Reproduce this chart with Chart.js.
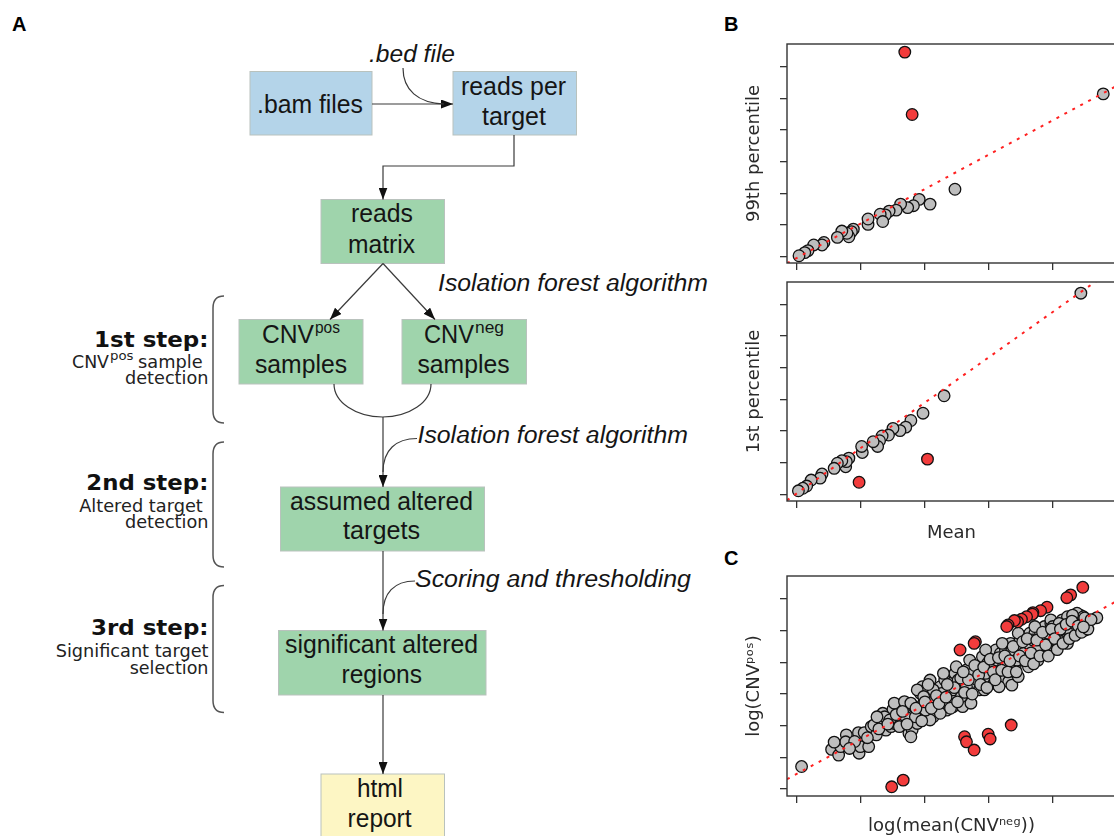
<!DOCTYPE html>
<html>
<head>
<meta charset="utf-8">
<script src="https://cdn.jsdelivr.net/npm/chart.js@4/dist/chart.umd.min.js"></script>
<style>
  html, body { margin: 0; padding: 0; background: #fff; }
  body { width: 1114px; height: 836px; overflow: hidden; position: relative; }
  svg#flow { position: absolute; left: 0; top: 0; }
  canvas { position: absolute; }
  .box { stroke: #b9c2bd; stroke-width: 1; }
  .lab { font-family: 'Liberation Sans Narrow', 'Liberation Sans', Arial, sans-serif; font-size: 25px; fill: #151515; }
  .ital { font-family: 'Liberation Sans Narrow', 'Liberation Sans', Arial, sans-serif; font-size: 23px; font-style: italic; fill: #151515; }
  .step { font-family: 'DejaVu Sans', sans-serif; font-size: 22px; font-weight: bold; fill: #111; }
  .sub { font-family: 'DejaVu Sans', sans-serif; font-size: 17px; fill: #222; }
  .panel { font-family: 'Liberation Sans', Arial, sans-serif; font-size: 20px; font-weight: bold; fill: #000; }
  .ln { stroke: #3a3a3a; stroke-width: 1.2; fill: none; }
  .br { stroke: #555; stroke-width: 1.5; fill: none; }
</style>
</head>
<body>
<svg id="flow" width="1114" height="836" xmlns="http://www.w3.org/2000/svg">
  <defs>
    <marker id="ah" viewBox="0 0 12 9" refX="12" refY="4.5" markerWidth="12" markerHeight="9" markerUnits="userSpaceOnUse" orient="auto">
      <path d="M0,0 L12,4.5 L0,9 z" fill="#111"/>
    </marker>
  </defs>
  <text class="panel" x="12" y="31">A</text>
  <text class="panel" x="724" y="31">B</text>
  <text class="panel" x="724" y="565">C</text>

  <!-- boxes -->
  <rect class="box" x="250" y="71.5" width="122" height="63.5" fill="#b4d4e9"/>
  <rect class="box" x="453" y="71.5" width="123.5" height="63.5" fill="#b4d4e9"/>
  <rect class="box" x="321" y="199.5" width="123.5" height="64" fill="#9fd4ac"/>
  <rect class="box" x="239" y="319.5" width="124" height="64.5" fill="#9fd4ac"/>
  <rect class="box" x="402" y="319.5" width="124.5" height="64.5" fill="#9fd4ac"/>
  <rect class="box" x="280.5" y="487" width="204" height="64" fill="#9fd4ac"/>
  <rect class="box" x="278.5" y="630.5" width="207.5" height="64.5" fill="#9fd4ac"/>
  <rect class="box" x="321" y="774" width="123.5" height="70" fill="#fdf6c4"/>

  <!-- connectors -->
  <path class="ln" d="M372,104 L453,104" marker-end="url(#ah)"/>
  <path class="ln" d="M403,68 C403,90 418,103 444,104"/>
  <path class="ln" d="M514,135 L514,166 L383,166 L383,199.5" marker-end="url(#ah)"/>
  <path class="ln" d="M383,263.5 L330,319.5" marker-end="url(#ah)"/>
  <path class="ln" d="M383,263.5 L435,319.5" marker-end="url(#ah)"/>
  <path class="ln" d="M334,384 A48.5,33 0 0 0 431,384"/>
  <path class="ln" d="M383,417 L383,487" marker-end="url(#ah)"/>
  <path class="ln" d="M417,438.5 C396,438.5 383,450 383,472"/>
  <path class="ln" d="M383,551 L383,630.5" marker-end="url(#ah)"/>
  <path class="ln" d="M415,581 C394,581 383,593 383,614"/>
  <path class="ln" d="M383,695 L383,774" marker-end="url(#ah)"/>

  <!-- box texts -->
  <text class="ital" x="369" y="61.5" textLength="86" lengthAdjust="spacingAndGlyphs">.bed file</text>
  <text class="lab" x="257" y="112.5" textLength="106" lengthAdjust="spacingAndGlyphs">.bam files</text>
  <text class="lab" x="461" y="94.5" textLength="105" lengthAdjust="spacingAndGlyphs">reads per</text>
  <text class="lab" x="482" y="124.5" textLength="64" lengthAdjust="spacingAndGlyphs">target</text>
  <text class="lab" x="351" y="221.5" textLength="62" lengthAdjust="spacingAndGlyphs">reads</text>
  <text class="lab" x="348" y="253" textLength="67" lengthAdjust="spacingAndGlyphs">matrix</text>
  <text class="ital" x="438" y="291" textLength="270" lengthAdjust="spacingAndGlyphs">Isolation forest algorithm</text>
  <text class="lab" x="262" y="342.7" textLength="52" lengthAdjust="spacingAndGlyphs">CNV</text>
  <text class="lab" x="315" y="333" style="font-size:16px" textLength="25" lengthAdjust="spacingAndGlyphs">pos</text>
  <text class="lab" x="255" y="372.7" textLength="92" lengthAdjust="spacingAndGlyphs">samples</text>
  <text class="lab" x="424" y="342.7" textLength="50" lengthAdjust="spacingAndGlyphs">CNV</text>
  <text class="lab" x="475" y="333" style="font-size:16px" textLength="29" lengthAdjust="spacingAndGlyphs">neg</text>
  <text class="lab" x="417.5" y="372.7" textLength="92" lengthAdjust="spacingAndGlyphs">samples</text>
  <text class="ital" x="417.5" y="443.3" textLength="270.5" lengthAdjust="spacingAndGlyphs">Isolation forest algorithm</text>
  <text class="lab" x="290" y="510" textLength="183" lengthAdjust="spacingAndGlyphs">assumed altered</text>
  <text class="lab" x="343" y="539.3" textLength="77" lengthAdjust="spacingAndGlyphs">targets</text>
  <text class="ital" x="415" y="586.7" textLength="276" lengthAdjust="spacingAndGlyphs">Scoring and thresholding</text>
  <text class="lab" x="285" y="652.7" textLength="193" lengthAdjust="spacingAndGlyphs">significant altered</text>
  <text class="lab" x="341.5" y="683.3" textLength="80.5" lengthAdjust="spacingAndGlyphs">regions</text>
  <text class="lab" x="357" y="796.7" textLength="46" lengthAdjust="spacingAndGlyphs">html</text>
  <text class="lab" x="347.6" y="826.7" textLength="64" lengthAdjust="spacingAndGlyphs">report</text>

  <!-- step labels -->
  <text class="step" x="94" y="346.7" textLength="114.5" lengthAdjust="spacingAndGlyphs">1st step:</text>
  <text class="sub" x="72" y="368.3" textLength="37" lengthAdjust="spacingAndGlyphs">CNV</text>
  <text class="sub" x="110" y="360" style="font-size:12px" textLength="23.5" lengthAdjust="spacingAndGlyphs">pos</text>
  <text class="sub" x="138" y="368.3" textLength="64.6" lengthAdjust="spacingAndGlyphs">sample</text>
  <text class="sub" x="125" y="384.3" textLength="83.5" lengthAdjust="spacingAndGlyphs">detection</text>
  <text class="step" x="86.3" y="490" textLength="122" lengthAdjust="spacingAndGlyphs">2nd step:</text>
  <text class="sub" x="79.2" y="512.3" textLength="123.6" lengthAdjust="spacingAndGlyphs">Altered target</text>
  <text class="sub" x="125" y="528.3" textLength="83.5" lengthAdjust="spacingAndGlyphs">detection</text>
  <text class="step" x="91" y="635" textLength="117.5" lengthAdjust="spacingAndGlyphs">3rd step:</text>
  <text class="sub" x="55.7" y="657.3" textLength="152.8" lengthAdjust="spacingAndGlyphs">Significant target</text>
  <text class="sub" x="129.7" y="674" textLength="78.8" lengthAdjust="spacingAndGlyphs">selection</text>

  <!-- braces -->
  <path class="br" d="M224,296 Q213,296 213,308 L213,411 Q213,423 224,423"/>
  <path class="br" d="M224,442 Q213,442 213,454 L213,555 Q213,567 224,567"/>
  <path class="br" d="M224,585.5 Q213,585.5 213,597.5 L213,700.5 Q213,712.5 224,712.5"/>
</svg>

<canvas id="bTop" width="383" height="239" style="left:740px;top:34px"></canvas>
<canvas id="bBot" width="383" height="276" style="left:740px;top:272px"></canvas>
<canvas id="cPlot" width="383" height="275" style="left:740px;top:566px"></canvas>

<script>
// ---------- tick values ----------
const xTickValues = [0, 1, 2, 3, 4];
const yTickValues = [0, 1, 2, 3, 4, 5, 6];

// ---------- Panel B (top): 99th percentile vs Mean ----------
const bTopGray = [[4.79,5.14],[2.47,2.13],[2.08,1.66],[1.91,1.81],[1.82,1.61],[1.73,1.55],[1.62,1.66],[1.55,1.47],[1.44,1.44],[1.38,1.32],[1.30,1.34],[1.34,1.11],[1.11,1.02],[1.11,1.19],[0.88,0.87],[0.85,0.79],[0.81,0.63],[0.78,0.74],[0.70,0.81],[0.63,0.61],[0.42,0.45],[0.39,0.37],[0.26,0.37],[0.17,0.19],[0.12,0.13],[0.03,0.03]];
const bTopRed = [[1.685,6.46],[1.80,4.49]];
const bTopLine = [[-0.158,-0.205],[4.988,5.38]];

// ---------- Panel B (bottom): 1st percentile vs Mean ----------
const bBotGray = [[4.44,6.35],[2.30,3.11],[1.97,2.56],[1.78,2.33],[1.70,2.12],[1.61,2.01],[1.50,2.08],[1.43,1.87],[1.33,1.84],[1.29,1.69],[1.26,1.51],[1.19,1.66],[1.02,1.32],[1.01,1.51],[0.81,1.14],[0.76,0.87],[0.77,1.03],[0.70,1.06],[0.63,0.98],[0.58,0.82],[0.39,0.64],[0.36,0.51],[0.22,0.45],[0.15,0.26],[0.09,0.19],[0.02,0.11]];
const bBotRed = [[0.97,0.38],[2.04,1.11]];
const bBotLine = [[-0.158,-0.19],[4.988,7.17]];

// ---------- Panel C: log(CNVpos) vs log(mean(CNVneg)) ----------
const cGray = [[0.07,0.71],[0.54,1.25],[0.65,1.07],[0.68,1.34],[0.77,1.71],[0.76,1.49],[0.96,1.78],[0.97,1.13],[0.99,1.34],[1.05,1.78],[1.12,1.34],[1.16,1.97],[1.24,1.71],[1.32,2.07],[1.34,2.39],[1.39,1.86],[1.47,1.97],[1.50,2.52],[1.57,2.28],[1.62,2.60],[1.68,2.07],[1.73,2.49],[1.75,1.76],[1.80,1.86],[1.83,2.60],[1.88,2.07],[1.90,2.39],[1.93,3.02],[1.96,3.23],[1.98,2.71],[2.03,3.13],[2.06,2.39],[2.11,2.92],[2.13,2.28],[2.19,2.60],[2.24,3.23],[2.29,2.81],[2.31,3.44],[2.34,2.49],[2.39,3.02],[2.42,3.34],[2.47,3.65],[2.49,2.92],[2.54,3.23],[2.59,3.39],[2.65,3.76],[2.67,2.81],[2.70,3.13],[2.72,3.55],[2.77,3.34],[2.80,3.86],[2.85,3.13],[2.88,3.76],[2.90,4.18],[2.93,3.44],[2.98,3.97],[3.00,3.55],[3.05,4.07],[3.08,3.34],[3.11,4.39],[3.16,3.86],[3.18,4.28],[3.21,3.55],[3.26,4.39],[3.28,3.97],[3.31,3.39],[3.34,4.60],[3.39,4.18],[3.41,3.86],[3.46,4.39],[3.49,4.71],[3.51,4.07],[3.56,4.81],[3.59,4.39],[3.62,3.97],[3.64,4.92],[3.67,4.49],[3.69,4.18],[3.72,4.92],[3.74,4.39],[3.79,5.02],[3.82,4.60],[3.85,4.28],[3.87,5.13],[3.90,4.76],[3.95,4.49],[3.97,5.23],[4.00,4.92],[4.02,4.60],[4.08,5.13],[4.10,4.81],[4.15,5.34],[4.18,4.92],[4.20,4.71],[4.25,5.28],[4.31,5.13],[4.36,5.39],[4.38,5.02],[4.43,5.49],[4.51,5.02],[4.69,5.41],[4.46,5.23],[4.23,5.02],[4.13,4.65],[4.05,5.02],
  [1.37,2.28],[1.52,2.07],[1.78,1.65],[1.98,2.28],[2.08,2.18],[2.24,2.39],[2.44,2.60],[2.59,2.60],[2.72,2.71],[2.93,3.13],[3.16,3.23],[3.36,3.28],[3.46,3.55],[3.62,3.86],[3.77,4.07],[3.92,4.39],[4.08,4.49],[4.23,4.60],
  [1.52,2.71],[1.68,2.76],[1.88,3.13],[2.08,3.44],[2.29,3.65],[2.49,3.86],[2.70,4.07],[2.95,4.39],[3.21,4.60],[3.46,4.92],[3.72,5.13],[3.97,5.34],[4.23,5.44],[4.38,5.55],
  [1.45,2.18],[1.60,1.97],[1.70,2.28],[1.78,2.71],[1.85,2.28],[2.01,2.49],[2.16,2.81],[2.26,3.02],[2.37,2.71],[2.44,3.13],[2.52,3.44],[2.57,2.92],[2.65,3.23],[2.75,3.65],[2.82,3.44],[2.95,3.65],[3.03,3.86],[3.11,3.65],[3.13,4.07],[3.23,3.97],[3.36,4.39],[3.44,4.07],[3.51,4.49],[3.54,4.28],[3.62,4.60],[3.69,4.71],[3.77,4.49],[3.85,4.81],[3.92,4.92],[4.00,5.13],[4.10,5.23],[4.18,5.13],[4.28,4.92],[4.33,5.23],[4.41,5.34],[4.48,5.44],[4.54,5.28],[4.31,5.49],[1.98,2.92],[2.13,3.13],
  [1.20,2.02],[1.28,1.90],[1.42,2.05],[1.55,2.35],[1.65,2.45],[1.72,2.05],[1.86,2.55],[1.95,2.15],[2.00,2.75],[2.10,2.55],[2.18,2.95],[2.22,2.70],[2.33,2.90],[2.40,2.55],[2.46,3.20],[2.51,2.75],[2.56,3.50],[2.62,3.05],[2.68,3.45],[2.74,3.00],[2.78,3.90],[2.84,3.60],[2.87,3.30],[2.92,3.85],[2.97,3.20],[3.02,4.10],[3.07,3.70],[3.10,3.45],[3.15,4.15],[3.20,3.75],[3.25,4.20],[3.30,3.70],[3.33,4.05],[3.38,4.50],[3.43,3.70],[3.48,4.20],[3.53,4.65],[3.57,4.05],[3.60,4.75],[3.66,4.30],[3.70,3.95],[3.75,4.70],[3.80,4.20],[3.84,4.95],[3.89,4.55],[3.93,4.20],[3.98,5.05],[4.03,4.75],[4.07,4.40],[4.12,5.05],[4.16,4.60],[4.21,5.20],[4.26,4.75],[4.30,5.30],[4.35,4.85],[4.40,5.15],[4.45,4.95],[4.50,5.40],[4.55,5.05],[4.60,5.35],[4.48,5.12],[1.10,1.62],[0.90,1.50],[0.58,1.48],[0.82,1.28],[1.25,2.28],[2.05,3.30],[2.35,3.30],[2.60,3.70]];
const cRed = [[4.47,6.37],[4.28,6.13],[4.22,6.04],[3.91,5.74],[3.81,5.63],[3.69,5.57],[3.68,5.52],[3.59,5.44],[3.51,5.36],[3.45,5.28],[3.40,5.32],[3.30,5.18],[3.28,5.13],[2.79,4.65],[2.77,4.60],[2.55,4.39],[3.35,2.02],[2.99,1.73],[3.02,1.58],[2.62,1.65],[2.65,1.49],[2.77,1.23],[1.66,0.28],[1.48,0.07]];
const cLine = [[-0.158,0.31],[4.988,5.92]];

// ---------- axis ranges ----------
const xRange = [-0.158, 4.988];
const bTopYRange = [-0.199, 6.716];
const bBotYRange = [-0.212, 6.703];
const cYRange = [-0.221, 6.726];

const toXY = arr => arr.map(p => ({x: p[0], y: p[1]}));

const framePlugin = {
  id: 'frame',
  afterDatasetsDraw(chart) {
    const a = chart.chartArea, ctx = chart.ctx;
    ctx.save();
    ctx.strokeStyle = '#333';
    ctx.lineWidth = 1.4;
    ctx.strokeRect(a.left, a.top, a.right - a.left, a.bottom - a.top);
    ctx.restore();
  }
};

function makeChart(id, gray, red, line, yRange, yTitle, xTitle, xAxisH) {
  const titleFont = {family: 'DejaVu Sans', size: 18};
  const gridOpts = {display: true, drawOnChartArea: false, drawTicks: true, tickLength: 7, color: '#333', lineWidth: 1.3};
  return new Chart(document.getElementById(id), {
    type: 'scatter',
    data: {
      datasets: [
        {data: toXY(gray), backgroundColor: '#bebebe', borderColor: '#111', borderWidth: 1.3, pointRadius: 5.8, order: 3, clip: 0},
        {data: toXY(red), backgroundColor: '#f23c3c', borderColor: '#111', borderWidth: 1.3, pointRadius: 5.8, order: 2, clip: 0},
        {type: 'line', data: toXY(line), borderColor: '#ff2020', borderWidth: 2, borderDash: [3, 6], pointRadius: 0, fill: false, order: 1, clip: 0}
      ]
    },
    options: {
      responsive: false,
      animation: false,
      events: [],
      layout: {padding: {top: 10, right: 0, bottom: 0, left: 0}},
      plugins: {legend: {display: false}, tooltip: {enabled: false}},
      scales: {
        x: {
          type: 'linear', min: xRange[0], max: xRange[1],
          afterBuildTicks: s => { s.ticks = xTickValues.map(v => ({value: v})); },
          afterFit: s => { s.height = xAxisH; },
          ticks: {display: false},
          grid: gridOpts,
          border: {display: false},
          title: {display: !!xTitle, text: xTitle || '', font: titleFont, color: '#2a2a2a', padding: {top: 4, bottom: 4}}
        },
        y: {
          type: 'linear', min: yRange[0], max: yRange[1],
          afterBuildTicks: s => { s.ticks = yTickValues.map(v => ({value: v})); },
          afterFit: s => { s.width = 47; },
          ticks: {display: false},
          grid: gridOpts,
          border: {display: false},
          title: {display: true, text: yTitle, font: titleFont, color: '#2a2a2a', padding: {top: 4, bottom: 4}}
        }
      }
    },
    plugins: [framePlugin]
  });
}

makeChart('bTop', bTopGray, bTopRed, bTopLine, bTopYRange, '99th percentile', '', 10);
makeChart('bBot', bBotGray, bBotRed, bBotLine, bBotYRange, '1st percentile', 'Mean', 47);
makeChart('cPlot', cGray, cRed, cLine, cYRange, 'log(CNV\u1D56\u1D52\u02E2)', 'log(mean(CNV\u207F\u1D49\u1D4D))', 45);
</script>
</body>
</html>
